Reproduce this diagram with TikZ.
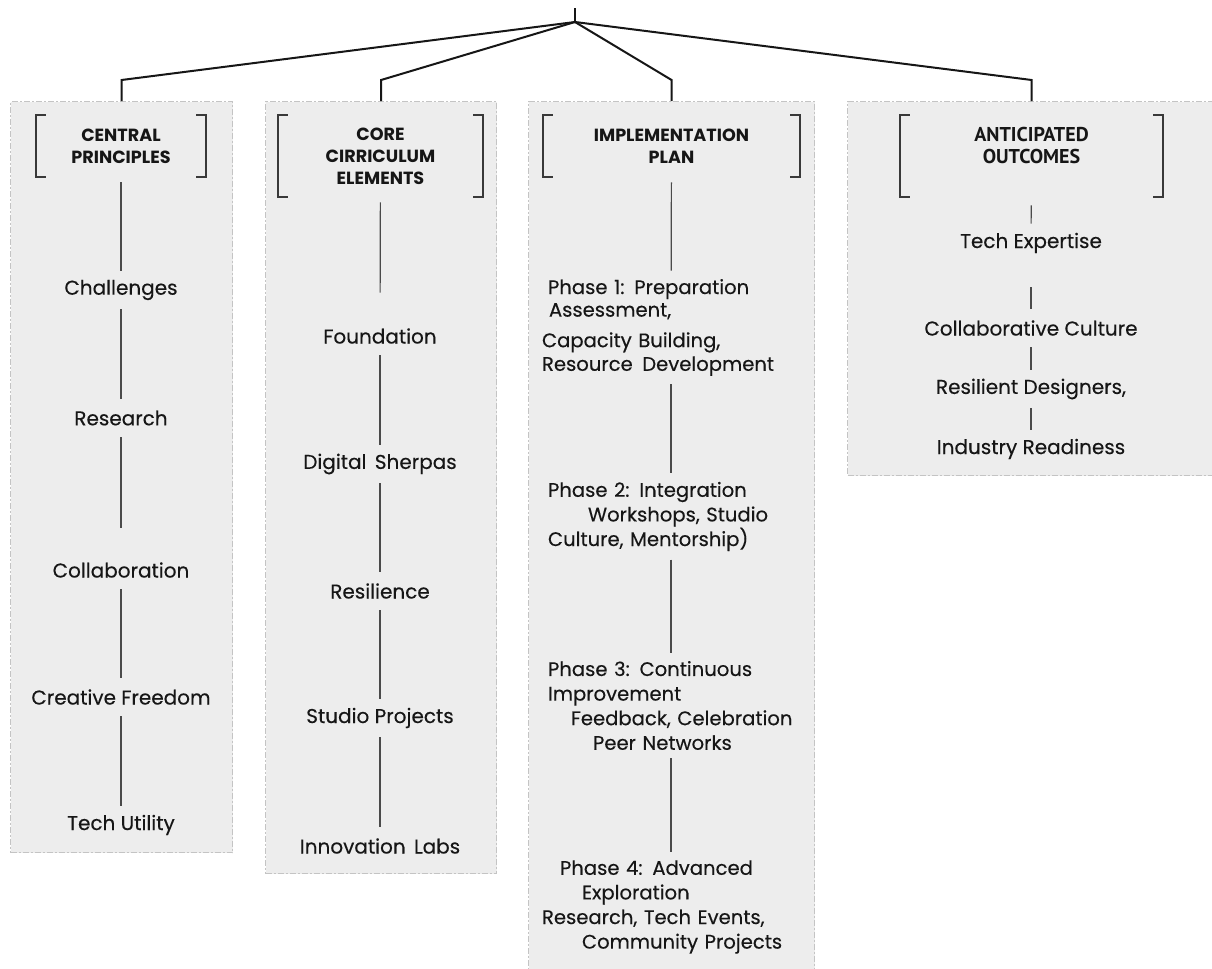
\documentclass[tikz,border=0pt]{standalone}
\usepackage{fontspec}
\setmainfont{Poppins}[UprightFeatures={FakeBold=0.3}]
\newfontfamily\outfont{PT Sans}
\usetikzlibrary{positioning}
\definecolor{boxfill}{HTML}{EDEDED}
\definecolor{boxline}{HTML}{C4C4C4}
\definecolor{inkdark}{HTML}{161616}
\definecolor{linkgray}{HTML}{4A4A4A}
\tikzset{
  colbox/.style={rectangle, draw=boxline, fill=boxfill, line width=0.6pt, dash pattern=on 3pt off 1pt on 1pt off 1pt, anchor=north west, inner sep=0pt},
  headbox/.style={rectangle, inner sep=0pt, align=center, font=\bfseries\fontsize{8.8}{11}\selectfont, text=inkdark},
  item/.style={rectangle, inner sep=0pt, minimum height=19pt, font=\fontsize{10}{11}\selectfont, text=inkdark},
  phase/.style={rectangle, inner xsep=0pt, inner ysep=4pt, text width=129pt, align=left, font=\fontsize{9.8}{12.3}\selectfont, text=inkdark},
  trunk/.style={draw=inkdark, line width=1pt},
  link/.style={draw=linkgray, line width=0.6pt},
  brk/.style={draw=inkdark!85, line width=1pt},
}

\begin{document}
\begin{tikzpicture}[x=0.5pt, y=-0.5pt]
  \useasboundingbox (0,0) rectangle (1212,969);

  % column backgrounds
  \node[colbox, minimum width=111pt, minimum height=375.5pt] (box1) at (10,101) {};
  \node[colbox, minimum width=115.5pt, minimum height=386pt] (box2) at (265,101) {};
  \node[colbox, minimum width=143pt, minimum height=437pt] (box3) at (528,101) {};
  \node[colbox, minimum width=184pt, minimum height=187pt] (box4) at (847,101) {};

  % tree on top
  \coordinate (top) at (575,8);
  \coordinate (root) at (575,22);
  \draw[trunk] (top) -- (root);
  \foreach \b in {box1,box2,box3,box4}
    \draw[trunk, line join=miter] (root) -- (\b.north |- 0,80) -- (\b.north);

  % headings
  \node[headbox, minimum width=85pt, minimum height=31pt] (head1) at (121,146) {CENTRAL\\PRINCIPLES};
  \node[headbox, minimum width=102.5pt, minimum height=41pt] (head2) at (380.5,156) {CORE\\CIRRICULUM\\ELEMENTS};
  \node[headbox, minimum width=128.5pt, minimum height=31pt] (head3) at (671.5,146) {IMPLEMENTATION\\PLAN};
  \node[headbox, minimum width=131.5pt, minimum height=41pt, font=\outfont\bfseries\fontsize{10}{11}\selectfont] (head4) at (1031.5,156)
      {ANTICIPATED\\OUTCOMES\\\mbox{}};

  \foreach \h in {head1,head2,head3,head4}{
    \draw[brk] ([xshift=5pt]\h.north west) -- (\h.north west) -- (\h.south west) -- ([xshift=5pt]\h.south west);
    \draw[brk] ([xshift=-5pt]\h.north east) -- (\h.north east) -- (\h.south east) -- ([xshift=-5pt]\h.south east);
  }

  % Central principles
  \node[item] (chal) at (121,290) {Challenges};
  \node[item] (res) at (121,418) {Research};
  \node[item] (collab) at (121,570) {Collaboration};
  \node[item] (free) at (121,697) {Creative Freedom};
  \node[item] (util) at (121,825) {Tech Utility};

  \draw[link, shorten <=2.5pt] (head1) -- (chal);
  \draw[link] (chal) -- (res);
  \draw[link, shorten >=11.5pt] (res) -- (collab);
  \draw[link] (collab) -- (free);
  \draw[link] (free) -- (util);

  % Core curriculum elements
  \node[item] (found) at (380,336) {Foundation};
  \node[item] (sherpa) at (380,464) {Digital\hspace{1.5pt} Sherpas};
  \node[item] (resil) at (380,591) {Resilience};
  \node[item] (studio) at (380,718) {Studio Projects};
  \node[item] (labs) at (380,846) {Innovation\hspace{1.5pt} Labs};

  \draw[link, shorten <=2.5pt, shorten >=12pt] (head2) -- (found);
  \draw[link] (found) -- (sherpa);
  \draw[link] (sherpa) -- (resil);
  \draw[link] (resil) -- (studio);
  \draw[link] (studio) -- (labs);

  % Implementation plan
  \node[phase] (ph1) at (671,327.5)
      {\hspace*{3pt}Phase 1: Preparation\\[-1pt]
       \hspace*{3.5pt}Assessment,\\[3pt]
       Capacity Building,\\[-0.5pt]
       Resource\hspace{1.5pt} Development};
  \node[phase] (ph2) at (671,516.5)
      {\hspace*{3pt}Phase 2: Integration\\
       \hspace*{23pt}Workshops, Studio\\
       \hspace*{3pt}Culture, Mentorship)};
  \node[phase] (ph3) at (671,705.5)
      {\hspace*{3pt}Phase 3: Continuous\\
       \hspace*{3pt}Improvement\\
       \hspace*{14.5pt}Feedback, Celebration\\
       \hspace*{25.5pt}Peer Networks};
  \node[phase] (ph4) at (671,907)
      {\hspace*{9pt}Phase 4: Advanced\\
       \hspace*{20pt}Exploration\\
       Research, Tech Events,\\
       \hspace*{20pt}Community Projects};

  \draw[link, shorten <=2.5pt] (head3) -- (ph1);
  \draw[link] (ph1) -- (ph2);
  \draw[link] (ph2) -- (ph3);
  \draw[link] (ph3) -- (ph4);

  % Anticipated outcomes
  \begin{scope}[every node/.append style={font=\outfont\fontsize{11.2}{12}\selectfont}]
    \node[item] (expert) at (1031,243) {Tech Expertise};
    \node[item] (culture) at (1031,328) {Collaborative Culture};
    \node[item] (design) at (1031,389) {Resilient Designers,};
    \node[item] (ready) at (1031,449) {Industry Readiness};
  \end{scope}

  \draw[link, shorten <=4pt] (head4) -- (expert);
  \draw[link, shorten <=12.5pt] (expert) -- (culture);
  \draw[link] (culture) -- (design);
  \draw[link] (design) -- (ready);
\end{tikzpicture}
\end{document}
